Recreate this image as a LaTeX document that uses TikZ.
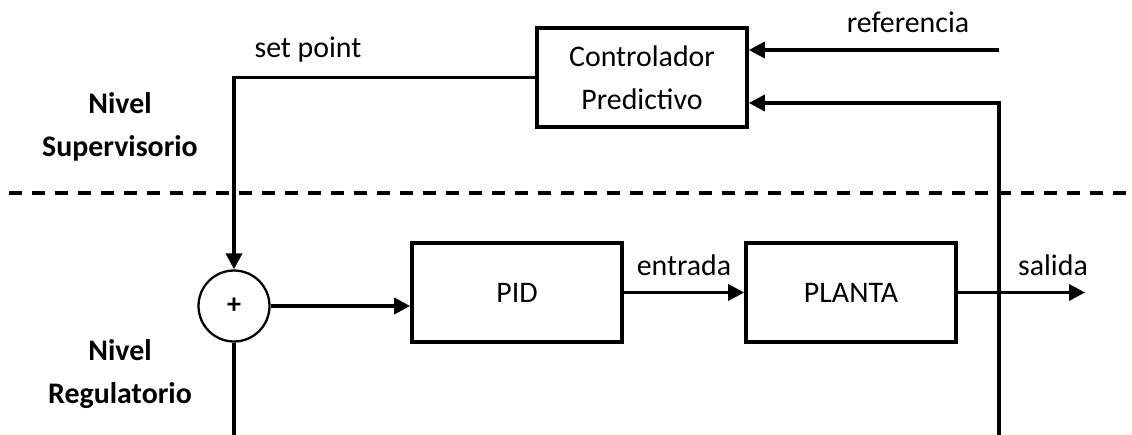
\documentclass[tikz,border=0pt]{standalone}
\usepackage{fontspec}
\setmainfont{Carlito}
\usetikzlibrary{arrows.meta}

\begin{document}
\begin{tikzpicture}[
    x=0.02cm, y=-0.02cm,
    every node/.style={font=\fontsize{17}{24.5}\selectfont},
    block/.style={rectangle, draw=black, line width=2.1pt,
        minimum width=4.2cm, minimum height=1.98cm, align=center},
    sumnode/.style={circle, draw=black, line width=1.3pt,
        minimum size=1.42cm, inner sep=0pt, font=\fontsize{16}{18}\selectfont\bfseries},
    level/.style={align=center, font=\fontsize{17}{24.5}\selectfont\bfseries},
    signal/.style={draw=black, line width=2pt},
    arrowline/.style={signal, -{Triangle[length=0.32cm, width=0.32cm]}},
    divider/.style={draw=black, line width=2.2pt, dash pattern=on 0.26cm off 0.2cm},
]
\useasboundingbox (0,0) rectangle (1132,435);

% bloques
\node[block] (ctrl) at (642,77.5) {Controlador\\Predictivo};
\node[block] (pid) at (517,292.5) {PID};
\node[block] (plant) at (851,292.5) {PLANTA};
\node[sumnode] (sum) at (234,306) {+};

% niveles
\node[level] (sup) at (120,127) {Nivel\\Supervisorio};
\node[level] (reg) at (120,374) {Nivel\\Regulatorio};

% puntos libres
\coordinate (refin) at (999,50);
\coordinate (fbtop) at (999,103);
\coordinate (fbbot) at (999,435);
\coordinate (out) at (1085,292.5);
\coordinate (dashl) at (9,193);
\coordinate (dashr) at (1132,193);

% conexiones
\draw[arrowline] (ctrl.west) -| (sum.north);
\draw[arrowline] (refin) -- (ctrl.east |- refin);
\draw[arrowline] (fbbot) -- (fbtop) -- (ctrl.east |- fbtop);
\draw[arrowline] (sum.east) -- (pid.west |- sum.east);
\draw[arrowline] (pid) -- (plant);
\draw[arrowline] (plant) -- (out);
\draw[signal] (sum.south) -- (sum.south |- fbbot);
\draw[divider] (dashl) -- (dashr);

% etiquetas
\node (lsp) at (308,50) {set point};
\node (lref) at (908,22) {referencia};
\node (lin) at (684,265) {entrada};
\node (lout) at (1053,265) {salida};
\end{tikzpicture}
\end{document}
